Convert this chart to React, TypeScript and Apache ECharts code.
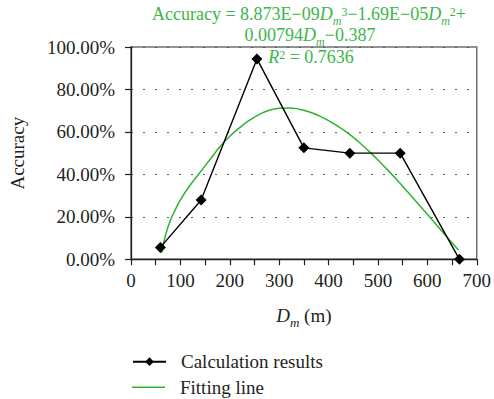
import React, { useEffect, useRef } from "react";
import * as echarts from "echarts";

// Calculation results (Dm in m, accuracy as fraction)
const calcX = [59.5, 142, 255, 350, 443, 545, 665];
const calcY = [0.056, 0.279, 0.944, 0.525, 0.5, 0.5, 0.0];

// Fitting line
const fitX = [62, 70, 80, 90, 100, 120, 140, 160, 180, 200, 220, 240, 260, 280, 300, 320, 340, 360, 380, 400, 420, 440, 460, 480, 500, 520, 540, 560, 580, 600, 620, 640, 663];
const fitY = [0.03, 0.115, 0.185, 0.235, 0.28, 0.35, 0.41, 0.47, 0.53, 0.58, 0.62, 0.655, 0.683, 0.702, 0.712, 0.713, 0.707, 0.695, 0.677, 0.653, 0.625, 0.593, 0.555, 0.513, 0.468, 0.42, 0.37, 0.318, 0.265, 0.212, 0.158, 0.104, 0.044];

const xTicks = [0, 100, 200, 300, 400, 500, 600, 700];
const yTicks = [0, 0.2, 0.4, 0.6, 0.8, 1.0];

const seriesNames = ["Calculation results", "Fitting line"];

const FONT = "'Liberation Serif', 'Times New Roman', serif";
const GREEN_LINE = "#2db42f";
const GREEN_TEXT = "#3cb64a";
const TEXT = "#231f20";

export default function App() {
  const ref = useRef<HTMLDivElement>(null);
  useEffect(() => {
    if (!ref.current) return;
    const chart = echarts.init(ref.current, undefined, { renderer: "svg" });
    const eqRich: any = {
      n: { fontSize: 18, fontFamily: FONT, fill: GREEN_TEXT, lineHeight: 18 },
      i: { fontSize: 18, fontFamily: FONT, fill: GREEN_TEXT, lineHeight: 18, fontStyle: "italic" },
      sub: { fontSize: 12, fontFamily: FONT, fill: GREEN_TEXT, lineHeight: 5, padding: [13, 0, 0, 0], fontStyle: "italic" },
      sup: { fontSize: 12, fontFamily: FONT, fill: GREEN_TEXT, lineHeight: 5, padding: [4, 0, 9, 0] },
    };
    const eqLine = (text: string, x: number, y: number) => ({
      type: "text",
      x,
      y,
      style: {
        text,
        rich: eqRich,
        fill: GREEN_TEXT,
        font: `18px ${FONT}`,
        align: "center",
        textAlign: "center",
        verticalAlign: "top",
        textVerticalAlign: "top",
      },
      z: 100,
    });
    const legendText = { fontSize: 19, fontFamily: FONT, color: TEXT, lineHeight: 20, padding: [0, 0, 0, 10] };
    chart.setOption({
      animation: false,
      textStyle: { fontFamily: FONT },
      grid: {
        left: 130.5,
        right: 16.5,
        top: 47,
        bottom: 139.7,
        show: true,
        borderColor: "#6d6e70",
        borderWidth: 1.5,
        backgroundColor: "transparent",
      },
      legend: [
        {
          orient: "vertical",
          left: 132,
          top: 351.7,
          padding: 0,
          itemWidth: 33,
          itemHeight: 11,
          textStyle: legendText,
          data: [seriesNames[0]],
        },
        {
          orient: "vertical",
          left: 132,
          top: 377.3,
          padding: 0,
          itemWidth: 33,
          itemHeight: 1.5,
          icon: "rect",
          textStyle: legendText,
          data: [{ name: seriesNames[1], icon: "rect", itemStyle: { color: GREEN_LINE } }],
        },
      ],
      xAxis: {
        type: "value",
        min: xTicks[0],
        max: xTicks[xTicks.length - 1],
        interval: 100,
        name: "{i|D}{sub|m}{n| (m)}",
        nameLocation: "middle",
        nameGap: 45,
        nameTextStyle: {
          rich: {
            n: { fontSize: 19, fontFamily: FONT, color: TEXT, lineHeight: 22 },
            i: { fontSize: 19, fontFamily: FONT, color: TEXT, lineHeight: 22, fontStyle: "italic" },
            sub: { fontSize: 13, fontFamily: FONT, color: TEXT, lineHeight: 8, padding: [14, 0, 0, 0], fontStyle: "italic" },
          },
        },
        axisLine: { lineStyle: { color: "#231f20", width: 1.3 } },
        axisTick: { show: true, length: 6, lineStyle: { color: "#231f20", width: 1.2 } },
        minorTick: { show: true, splitNumber: 2, length: 6, lineStyle: { color: "#231f20", width: 1.2 } },
        axisLabel: { fontSize: 19, fontFamily: FONT, color: TEXT, margin: 12 },
        splitLine: { show: false },
      },
      yAxis: {
        type: "value",
        min: yTicks[0],
        max: yTicks[yTicks.length - 1],
        interval: 0.2,
        name: "Accuracy",
        nameLocation: "middle",
        nameGap: 104,
        nameTextStyle: { fontSize: 19, fontFamily: FONT, color: TEXT },
        axisLine: { show: true, lineStyle: { color: "#231f20", width: 1.3 } },
        axisTick: { show: true, length: 6, lineStyle: { color: "#231f20", width: 1.2 } },
        axisLabel: {
          fontSize: 19,
          fontFamily: FONT,
          color: TEXT,
          margin: 16,
          formatter: (v: number) => (v * 100).toFixed(2) + "%",
        },
        splitLine: { show: true, lineStyle: { color: "#58595b", width: 1.2, type: [2, 10] } },
      },
      series: [
        {
          name: seriesNames[0],
          type: "line",
          data: calcX.map((x, i) => [x, calcY[i]]),
          symbol: "diamond",
          symbolSize: 11,
          clip: false,
          itemStyle: { color: "#000" },
          lineStyle: { color: "#000", width: 1.4 },
          z: 3,
        },
        {
          name: seriesNames[1],
          type: "line",
          data: fitX.map((x, i) => [x, fitY[i]]),
          smooth: true,
          showSymbol: false,
          symbol: "none",
          itemStyle: { color: GREEN_LINE },
          lineStyle: { color: GREEN_LINE, width: 1.5 },
          z: 2,
        },
      ],
      graphic: [
        eqLine("{n|Accuracy = 8.873E−09}{i|D}{sub|m}{sup|3}{n|−1.69E−05}{i|D}{sub|m}{sup|2}{n|+}", 309, 5),
        eqLine("{n|0.00794}{i|D}{sub|m}{n|−0.387}", 310, 26),
        eqLine("{i|R}{sup|2}{n| = 0.7636}", 311, 48),
      ],
    });
    return () => chart.dispose();
  }, []);
  return <div ref={ref} style={{ position: "absolute", left: 0, top: 0, width: 494, height: 399 }} />;
}
